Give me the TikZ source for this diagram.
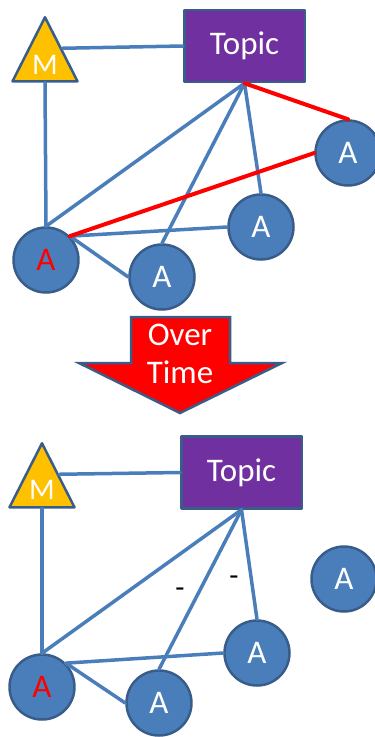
\documentclass[tikz,border=0pt]{standalone}
\usepackage{fontspec}
\setmainfont{Carlito}
\usetikzlibrary{shapes.geometric,calc}
\definecolor{shapeblue}{HTML}{4A7EBB}
\definecolor{edgeblue}{HTML}{385D8A}
\definecolor{linkblue}{HTML}{4A7EBB}
\definecolor{mgold}{HTML}{FFC000}
\definecolor{topicpurple}{HTML}{7030A0}
\tikzset{
  every picture/.style={line join=round, line cap=round},
  bigtext/.style={font=\fontsize{33}{38}\selectfont},
  actor/.style={circle, draw=edgeblue, fill=shapeblue, line width=2.5pt, minimum size=65pt, inner sep=0pt, bigtext, text=white},
  topicbox/.style={rectangle, draw=edgeblue, fill=topicpurple, line width=2.5pt, minimum width=120.5pt, minimum height=72pt, bigtext, text=white},
  moderator/.style={isosceles triangle, isosceles triangle stretches, shape border rotate=90, draw=edgeblue, fill=mgold, line width=2.5pt, minimum width=65pt, minimum height=64pt, inner sep=0pt},
  mlabel/.style={font=\fontsize{30}{34}\selectfont, text=white, inner sep=0pt},
  link/.style={draw=linkblue, line width=3.5pt},
  redlink/.style={draw=red, line width=4pt},
  signlabel/.style={font=\fontsize{30}{34}\selectfont, inner sep=0pt},
}

\begin{document}
\begin{tikzpicture}[x=1pt,y=-1pt]
\useasboundingbox (0,0) rectangle (375,737);
\clip (0,0) rectangle (375,737);
% before
\node[moderator, anchor=apex] (mtop) at (45,14) {};
\node[mlabel] (mtext1) at (45,65) {M};
\node[topicbox] (topic1) at (244.5,46) {Topic};
\node[actor] (aright1) at (348,153) {A};
\node[actor] (amid1) at (261,227) {A};
\node[actor] (alow1) at (162,277) {A};
\node[actor, text=red] (ared1) at (46,260) {A};
\coordinate (mside1) at ($(mtop.apex)!0.5!(mtop.right corner)$);
\draw[link] (mside1) -- (topic1.west);
\draw[link] (mtop.south) -- (ared1.north);
\draw[link] (topic1.south) -- (ared1.north);
\draw[link] (topic1.south) -- (alow1.north);
\draw[link] (topic1.south) -- (amid1.north);
\draw[link] (ared1.north east) -- (amid1.west);
\draw[link] (ared1.north east) -- (alow1.west);
\draw[redlink] (topic1.south) -- (aright1.north);
\draw[redlink] (ared1.north east) -- (aright1.west);
% arrow
\draw[draw=edgeblue, fill=red, line width=2.5pt, line join=miter] (131,317) -- (230,317) -- (230,363) -- (282,363) -- (180,413) -- (79,363) -- (131,363) -- cycle;
\node[bigtext, text=white, align=center, inner sep=0pt] (overtime) at (180,354) {Over\\Time};
% after
\node[moderator, anchor=apex] (mbottom) at (42,440) {};
\node[mlabel] (mtext2) at (42,490) {M};
\node[topicbox] (topic2) at (241.5,472.5) {Topic};
\node[actor] (aright2) at (344,579) {A};
\node[actor] (amid2) at (257,653) {A};
\node[actor] (alow2) at (159,703) {A};
\node[actor, text=red] (ared2) at (42,687) {A};
\coordinate (mside2) at ($(mbottom.apex)!0.5!(mbottom.right corner)$);
\draw[link] (mside2) -- (topic2.west);
\draw[link] (mbottom.south) -- (ared2.north);
\draw[link] (topic2.south) -- (ared2.north);
\draw[link] (topic2.south) -- (alow2.north);
\draw[link] (topic2.south) -- (amid2.north);
\draw[link] (ared2.north east) -- (amid2.west);
\draw[link] (ared2.north east) -- (alow2.west);
\node[signlabel] (minus1) at (180,593) {-};
\node[signlabel] (minus2) at (234,581) {-};
\end{tikzpicture}
\end{document}
